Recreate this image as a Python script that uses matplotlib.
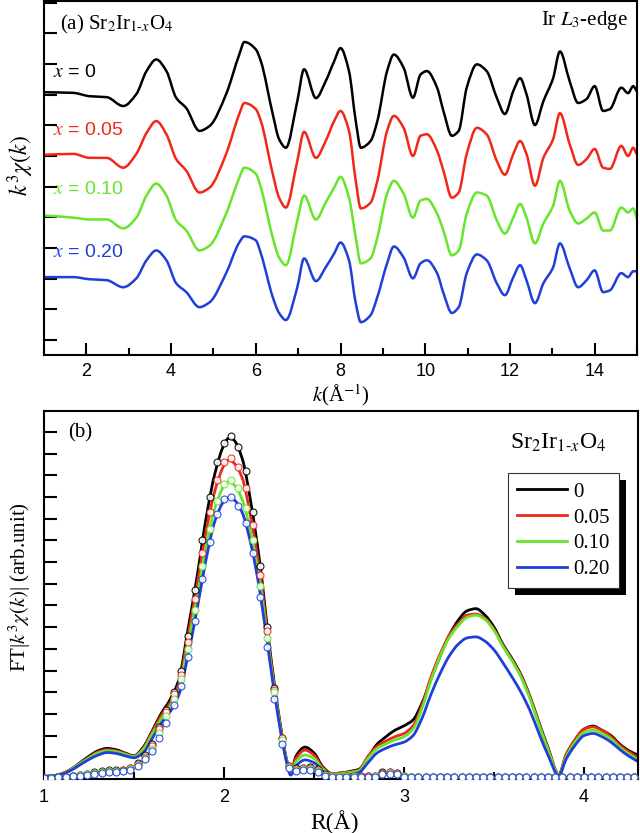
import matplotlib
matplotlib.use('Agg')
import matplotlib.pyplot as plt
from matplotlib.patches import Rectangle, PathPatch
from matplotlib.path import Path
from matplotlib.transforms import IdentityTransform
from matplotlib.ticker import MultipleLocator
from matplotlib.lines import Line2D

plt.rcParams['font.family'] = ['Liberation Serif', 'DejaVu Serif']
plt.rcParams['mathtext.fontset'] = 'stix'

# ---------------- data: panel (a) k^3 chi(k) ----------------
k_vals = [1.02, 1.69, 2.08, 2.48, 2.87, 3.18, 3.42, 3.65, 3.89, 4.12, 4.36, 4.67, 4.91, 5.30, 5.61, 5.73,
          6.00, 6.12, 6.40, 6.55, 6.71, 6.98, 7.14, 7.42, 7.65, 7.85, 8.00, 8.20, 8.36, 8.48, 8.71, 8.87,
          9.10, 9.26, 9.49, 9.71, 9.89, 10.04, 10.28, 10.43, 10.63, 10.79, 10.98, 11.22, 11.45, 11.69,
          11.88, 12.08, 12.24, 12.39, 12.59, 12.79, 13.02, 13.18, 13.41, 13.61, 13.81, 14.00, 14.20,
          14.36, 14.63, 14.79, 14.91, 14.99]

chi_x000 = [0.08, 0.06, -0.05, -0.08, -0.37, 0.02, 0.77, 1.15, 0.77, -0.10, -0.44, -1.18, -1.02, 0.02, 1.31, 1.72,
            1.48, 1.09, -0.63, -1.45, -1.73, -0.21, 0.83, -0.11, 0.44, 1.09, 1.52, 0.77, -0.86, -1.73, -1.51, -0.86,
            0.77, 1.31, 0.88, -0.10, 0.66, 0.77, 0.23, -0.53, -1.34, -1.18, 0.23, 0.99, 0.77, -0.10,
            -0.63, 0.12, 0.54, 0.02, -0.99, -0.21, 0.54, 1.41, 0.44, -0.27, -0.14, 0.28, -0.53,
            -0.47, 0.23, 0.05, 0.28, 0.12]
chi_x005 = [0.04, 0.07, -0.06, -0.06, -0.38, 0.07, 0.75, 1.14, 0.71, -0.10, -0.48, -1.19, -1.03, 0.07, 1.37, 1.73,
            1.53, 1.14, -0.58, -1.36, -1.68, -0.16, 0.79, -0.06, 0.49, 1.14, 1.47, 0.82, -0.81, -1.71, -1.52, -0.81,
            0.82, 1.31, 0.92, 0.00, 0.66, 0.71, 0.17, -0.48, -1.36, -1.19, 0.07, 0.92, 0.71, -0.16,
            -0.61, 0.07, 0.49, 0.07, -0.97, -0.06, 0.55, 1.40, 0.39, -0.29, -0.10, 0.23, -0.38,
            -0.42, 0.33, 0.00, 0.27, 0.07]
chi_x010 = [0.06, -0.01, -0.07, -0.07, -0.36, -0.01, 0.71, 1.10, 0.71, -0.10, -0.43, -1.08, -0.92, 0.12, 1.29, 1.62,
            1.42, 0.97, -0.66, -1.31, -1.56, -0.10, 0.71, -0.07, 0.48, 0.97, 1.32, 0.64, -0.66, -1.50, -1.34, -0.66,
            0.77, 1.19, 0.77, -0.01, 0.55, 0.60, 0.12, -0.43, -1.24, -1.08, 0.12, 0.81, 0.71, -0.10,
            -0.53, -0.01, 0.44, -0.01, -0.85, -0.20, 0.38, 1.19, 0.22, -0.20, -0.04, 0.16, -0.43,
            -0.43, 0.32, 0.16, 0.29, -0.01]
chi_x020 = [0.05, 0.05, -0.02, -0.05, -0.28, 0.01, 0.60, 0.92, 0.60, -0.15, -0.44, -0.93, -0.77, 0.18, 1.18, 1.38,
            1.25, 0.82, -0.60, -1.12, -1.35, -0.28, 0.66, -0.08, 0.37, 0.82, 1.18, 0.60, -0.80, -1.42, -1.19, -0.60,
            0.50, 1.05, 0.69, 0.01, 0.50, 0.60, 0.18, -0.47, -1.12, -0.93, 0.18, 0.79, 0.60, -0.15,
            -0.54, 0.05, 0.44, -0.05, -0.80, -0.15, 0.37, 1.15, 0.34, -0.28, -0.05, 0.27, -0.44,
            -0.38, 0.18, 0.05, 0.24, 0.24]
chi_offsets = [8, 6, 4, 2]

# ---------------- data: panel (b) FT magnitude ----------------
R_vals = [1.00, 1.05, 1.10, 1.15, 1.20, 1.25, 1.30, 1.35, 1.40, 1.45, 1.50, 1.55, 1.60, 1.65, 1.70, 1.75,
          1.80, 1.85, 1.90, 1.95, 2.00, 2.025, 2.05, 2.10, 2.15, 2.20, 2.25, 2.30, 2.35, 2.37, 2.40, 2.45,
          2.50, 2.55, 2.60, 2.65, 2.70, 2.75, 2.80, 2.85, 2.90, 2.95, 3.00, 3.05, 3.10, 3.15, 3.20, 3.25,
          3.30, 3.35, 3.40, 3.45, 3.50, 3.55, 3.60, 3.65, 3.70, 3.75, 3.80, 3.86, 3.90, 3.95, 4.00, 4.05,
          4.10, 4.15, 4.20, 4.25, 4.30]
ft_x000 = [0.12, 0.15, 0.25, 0.45, 0.75, 1.05, 1.30, 1.41, 1.35, 1.20, 1.07, 1.45, 2.20, 3.00, 3.65, 4.60,
           6.90, 9.30, 12.0, 14.1, 15.4, 15.7, 15.65, 14.8, 12.7, 9.9, 6.3, 3.2, 0.8, 0.25, 1.05, 1.47,
           1.2, 0.55, 0.25, 0.28, 0.35, 0.45, 1.0, 1.6, 1.95, 2.25, 2.45, 2.72, 3.5, 4.6, 5.65, 6.6,
           7.3, 7.75, 7.85, 7.55, 7.0, 6.2, 5.55, 4.8, 3.8, 2.6, 1.45, 0.2, 1.1, 1.8, 2.3, 2.44,
           2.25, 2.0, 1.6, 1.3, 1.1]
ft_x005 = [0.12, 0.15, 0.25, 0.45, 0.72, 1.0, 1.25, 1.35, 1.3, 1.17, 1.05, 1.4, 2.15, 2.9, 3.5, 4.4,
           6.6, 8.9, 11.4, 13.3, 14.45, 14.7, 14.6, 13.9, 12.0, 9.5, 6.1, 3.1, 0.8, 0.25, 0.95, 1.33,
           1.1, 0.5, 0.25, 0.28, 0.32, 0.42, 1.05, 1.5, 1.75, 1.95, 2.1, 2.45, 3.4, 4.7, 5.75, 6.6,
           7.15, 7.55, 7.6, 7.4, 6.9, 6.15, 5.5, 4.75, 3.75, 2.55, 1.4, 0.2, 1.1, 1.8, 2.3, 2.4,
           2.25, 1.95, 1.55, 1.25, 1.0]
ft_x010 = [0.12, 0.15, 0.24, 0.43, 0.7, 0.97, 1.2, 1.3, 1.26, 1.14, 1.03, 1.35, 2.05, 2.75, 3.35, 4.2,
           6.2, 8.4, 10.7, 12.5, 13.5, 13.7, 13.6, 12.9, 11.3, 9.0, 5.9, 3.0, 0.75, 0.22, 0.8, 1.1,
           0.95, 0.45, 0.22, 0.25, 0.3, 0.38, 0.95, 1.4, 1.62, 1.8, 1.95, 2.3, 3.25, 4.55, 5.65, 6.5,
           7.05, 7.45, 7.55, 7.35, 6.85, 6.1, 5.45, 4.7, 3.7, 2.5, 1.35, 0.18, 1.0, 1.7, 2.15, 2.25,
           2.1, 1.85, 1.45, 1.15, 0.87]
ft_x020 = [0.12, 0.14, 0.22, 0.4, 0.65, 0.9, 1.1, 1.22, 1.18, 1.07, 0.98, 1.2, 1.85, 2.55, 3.1, 3.9,
           5.7, 7.8, 10.1, 11.9, 12.8, 12.95, 12.9, 12.3, 10.8, 8.6, 5.7, 2.9, 0.7, 0.18, 0.6, 0.88,
           0.75, 0.35, 0.15, 0.15, 0.2, 0.3, 0.75, 1.2, 1.42, 1.58, 1.7, 2.0, 2.8, 3.9, 4.85, 5.65,
           6.2, 6.5, 6.55, 6.35, 5.95, 5.35, 4.7, 4.0, 3.15, 2.1, 1.1, 0.15, 0.9, 1.55, 2.0, 2.1,
           1.95, 1.7, 1.35, 1.05, 0.8]

# fitted curves (open circles)
R_fit = [1.00, 1.04, 1.08, 1.12, 1.16, 1.20, 1.24, 1.28, 1.32, 1.36, 1.40, 1.44, 1.48, 1.52, 1.56, 1.60,
         1.64, 1.68, 1.72, 1.76, 1.80, 1.84, 1.88, 1.92, 1.96, 2.00, 2.04, 2.08, 2.12, 2.16, 2.20, 2.24,
         2.28, 2.32, 2.36, 2.40, 2.44, 2.48, 2.52, 2.56, 2.60, 2.64, 2.68, 2.72, 2.76, 2.80, 2.84, 2.88,
         2.92, 2.96, 3.00, 3.04, 3.08, 3.12, 3.16, 3.20, 3.24, 3.28, 3.32, 3.36, 3.40, 3.44, 3.48, 3.52,
         3.56, 3.60, 3.64, 3.68, 3.72, 3.76, 3.80, 3.84, 3.88, 3.92, 3.96, 4.00, 4.04, 4.08, 4.12, 4.16,
         4.20, 4.24, 4.28]
fit_x000 = [0.05, 0.05, 0.08, 0.1, 0.15, 0.2, 0.25, 0.3, 0.35, 0.4, 0.4, 0.42, 0.5, 0.75, 1.1, 1.6,
            2.4, 3.2, 4.0, 5.0, 6.6, 8.7, 11.0, 13.0, 14.6, 15.5, 15.8, 15.3, 14.2, 12.3, 9.8, 7.0,
            4.2, 1.9, 0.6, 0.5, 0.5, 0.55, 0.45, 0.25, 0.15, 0.15, 0.15, 0.15, 0.12, 0.12, 0.15, 0.3,
            0.32, 0.28, 0.15, 0.1, 0.1, 0.1, 0.1, 0.1, 0.1, 0.1, 0.1, 0.1, 0.1, 0.1, 0.1, 0.1,
            0.1, 0.1, 0.1, 0.1, 0.1, 0.1, 0.1, 0.1, 0.1, 0.1, 0.1, 0.1, 0.1, 0.1, 0.1, 0.1,
            0.1, 0.1, 0.1]
fit_x005 = [0.05, 0.05, 0.08, 0.1, 0.14, 0.19, 0.24, 0.28, 0.33, 0.38, 0.38, 0.4, 0.5, 0.7, 1.0, 1.5,
            2.3, 3.1, 3.9, 4.8, 6.3, 8.3, 10.4, 12.3, 13.8, 14.6, 14.8, 14.4, 13.4, 11.7, 9.4, 6.8,
            4.1, 1.9, 0.6, 0.45, 0.5, 0.5, 0.4, 0.2, 0.15, 0.15, 0.15, 0.15, 0.12, 0.12, 0.15, 0.28,
            0.3, 0.26, 0.15, 0.1, 0.1, 0.1, 0.1, 0.1, 0.1, 0.1, 0.1, 0.1, 0.1, 0.1, 0.1, 0.1,
            0.1, 0.1, 0.1, 0.1, 0.1, 0.1, 0.1, 0.1, 0.1, 0.1, 0.1, 0.1, 0.1, 0.1, 0.1, 0.1,
            0.1, 0.1, 0.1]
fit_x010 = [0.05, 0.05, 0.07, 0.1, 0.13, 0.18, 0.22, 0.27, 0.31, 0.35, 0.36, 0.38, 0.45, 0.65, 0.95, 1.4,
            2.1, 2.9, 3.7, 4.6, 6.0, 7.8, 9.8, 11.5, 12.8, 13.6, 13.8, 13.4, 12.5, 11.0, 8.9, 6.5,
            4.0, 1.8, 0.55, 0.4, 0.45, 0.45, 0.35, 0.2, 0.12, 0.12, 0.12, 0.12, 0.1, 0.1, 0.12, 0.25,
            0.28, 0.24, 0.12, 0.1, 0.1, 0.1, 0.1, 0.1, 0.1, 0.1, 0.1, 0.1, 0.1, 0.1, 0.1, 0.1,
            0.1, 0.1, 0.1, 0.1, 0.1, 0.1, 0.1, 0.1, 0.1, 0.1, 0.1, 0.1, 0.1, 0.1, 0.1, 0.1,
            0.1, 0.1, 0.1]
fit_x020 = [0.05, 0.05, 0.07, 0.09, 0.12, 0.16, 0.2, 0.25, 0.29, 0.33, 0.34, 0.36, 0.4, 0.6, 0.9, 1.3,
            1.9, 2.6, 3.4, 4.3, 5.6, 7.3, 9.2, 10.9, 12.2, 12.9, 13.0, 12.6, 11.8, 10.4, 8.4, 6.1,
            3.7, 1.6, 0.5, 0.35, 0.4, 0.4, 0.3, 0.15, 0.1, 0.1, 0.1, 0.1, 0.1, 0.1, 0.1, 0.22,
            0.25, 0.22, 0.1, 0.1, 0.1, 0.1, 0.1, 0.1, 0.1, 0.1, 0.1, 0.1, 0.1, 0.1, 0.1, 0.1,
            0.1, 0.1, 0.1, 0.1, 0.1, 0.1, 0.1, 0.1, 0.1, 0.1, 0.1, 0.1, 0.1, 0.1, 0.1, 0.1,
            0.1, 0.1, 0.1]

x_labels = ['0', '0.05', '0.10', '0.20']
colors = ['#000000', '#f0281a', '#66e52a', '#1f3fd8']

chi_series = [chi_x000, chi_x005, chi_x010, chi_x020]
ft_series = [ft_x000, ft_x005, ft_x010, ft_x020]
fit_series = [fit_x000, fit_x005, fit_x010, fit_x020]


def smooth_line(ax, x, y, color, lw, zorder=2):
    """Draw the data as a smooth (monotone cubic Bezier) connection through every point."""
    n = len(x)
    h = [x[i + 1] - x[i] for i in range(n - 1)]
    d = [(y[i + 1] - y[i]) / h[i] for i in range(n - 1)]
    m = [0.0] * n
    m[0], m[-1] = d[0], d[-1]
    for i in range(1, n - 1):
        if d[i - 1] * d[i] <= 0:
            m[i] = 0.0
        else:
            w1 = 2 * h[i] + h[i - 1]
            w2 = h[i] + 2 * h[i - 1]
            m[i] = (w1 + w2) / (w1 / d[i - 1] + w2 / d[i])
    verts = [(x[0], y[0])]
    codes = [Path.MOVETO]
    for i in range(n - 1):
        verts += [(x[i] + h[i] / 3, y[i] + m[i] * h[i] / 3),
                  (x[i + 1] - h[i] / 3, y[i + 1] - m[i + 1] * h[i] / 3),
                  (x[i + 1], y[i + 1])]
        codes += [Path.CURVE4] * 3
    patch = PathPatch(Path(verts, codes), facecolor='none', edgecolor=color, lw=lw,
                      zorder=zorder, joinstyle='round', capstyle='round')
    ax.add_patch(patch)


W, H = 640, 833
fig = plt.figure(figsize=(W / 100, H / 100), dpi=100)

# ---------------- panel (a) ----------------
ax1 = fig.add_axes([44 / W, (H - 355) / H, 593 / W, 353.5 / H])
for chi, off, c in zip(chi_series, chi_offsets, colors):
    smooth_line(ax1, k_vals, [v + off for v in chi], c, 1.8)
ax1.set_xlim(1, 15)
ax1.set_ylim(-0.49, 11.04)
ax1.xaxis.set_major_locator(MultipleLocator(2))
ax1.xaxis.set_minor_locator(MultipleLocator(1))
ax1.set_yticks(list(range(0, 12)))
ax1.set_yticklabels([])
ax1.tick_params(direction='in', length=9, width=1.5, labelsize=13, pad=6,
                labelfontfamily='Liberation Sans', top=False, right=False)
ax1.tick_params(which='minor', direction='in', length=5, width=1.5, top=False, right=False)
for s in ax1.spines.values():
    s.set_linewidth(1.5)

ax1.text(0.027, 0.935, r'(a) Sr$_2$Ir$_{1\text{-}x}$O$_4$', transform=ax1.transAxes,
         fontsize=15, ha='left', va='center')
ax1.text(0.985, 0.946, r'Ir $L_3$-edge', transform=ax1.transAxes,
         fontsize=15, ha='right', va='center')
for lab, yy, c in zip(x_labels, [0.799, 0.636, 0.469, 0.291], colors):
    ax1.text(0.015, yy, r'$x$ = ' + lab, transform=ax1.transAxes, color=c,
             fontsize=14, ha='left', va='center', family=['Liberation Sans', 'DejaVu Sans'])
ax1.text(0.5, -0.113, r'$k$(Å$^{-1}$)', transform=ax1.transAxes, fontsize=15,
         ha='center', va='center')
ax1.text(-0.04, 0.537, r'$k^3\chi(k)$', transform=ax1.transAxes, fontsize=17,
         ha='center', va='center', rotation=90)

# ---------------- panel (b) ----------------
ax2 = fig.add_axes([44 / W, (H - 779) / H, 594 / W, 368 / H])
handles = []
for ft, c in zip(ft_series, colors):
    smooth_line(ax2, R_vals, ft, c, 2.0)
    handles.append(Line2D([], [], color=c, lw=2.0))
for fit, c in zip(fit_series, colors):
    ax2.plot(R_fit, fit, 'o', mfc='white', mec=c, ms=5, mew=0.8, zorder=3, alpha=0.9)
ax2.set_xlim(1, 4.3)
ax2.set_ylim(0, 16.96)
ax2.xaxis.set_major_locator(MultipleLocator(1))
ax2.xaxis.set_minor_locator(MultipleLocator(0.5))
ax2.set_yticks(list(range(0, 17)))
ax2.set_yticklabels([])
ax2.tick_params(direction='in', length=9, width=1.5, labelsize=13, pad=7,
                labelfontfamily='Liberation Sans', top=False, right=False)
ax2.tick_params(which='minor', direction='in', length=5, width=1.5, top=False, right=False)
for s in ax2.spines.values():
    s.set_linewidth(1.5)

ax2.text(0.04, 0.94, '(b)', transform=ax2.transAxes, fontsize=15, ha='left', va='center')
ax2.text(0.785, 0.913, r'Sr$_2$Ir$_{1\text{-}x}$O$_4$', transform=ax2.transAxes,
         fontsize=17, ha='left', va='center')
ax2.text(0.49, -0.117, 'R(Å)', transform=ax2.transAxes, fontsize=17, ha='center', va='center')
ax2.text(-0.04, 0.522, r'FT|$k^3\chi(k)$| (arb.unit)', transform=ax2.transAxes, fontsize=15,
         ha='center', va='center', rotation=90)

leg = ax2.legend(handles, x_labels, loc='upper left', bbox_to_anchor=(0.781, 0.8315),
                 fontsize=15, frameon=True, fancybox=False, edgecolor='#333333', framealpha=1,
                 handlelength=2.4, handletextpad=0.3, borderpad=0.44, labelspacing=0.3,
                 borderaxespad=0)
leg.get_frame().set_linewidth(0.8)
leg.set_zorder(6)

fig.canvas.draw()
bb = leg.get_frame().get_window_extent(fig.canvas.get_renderer())
shadow = Rectangle((bb.x0 + 7, bb.y0 - 7), bb.width, bb.height, transform=IdentityTransform(),
                   facecolor='black', edgecolor='none', zorder=5.5)
ax2.add_artist(shadow)

fig.savefig('out.png', dpi=100)
